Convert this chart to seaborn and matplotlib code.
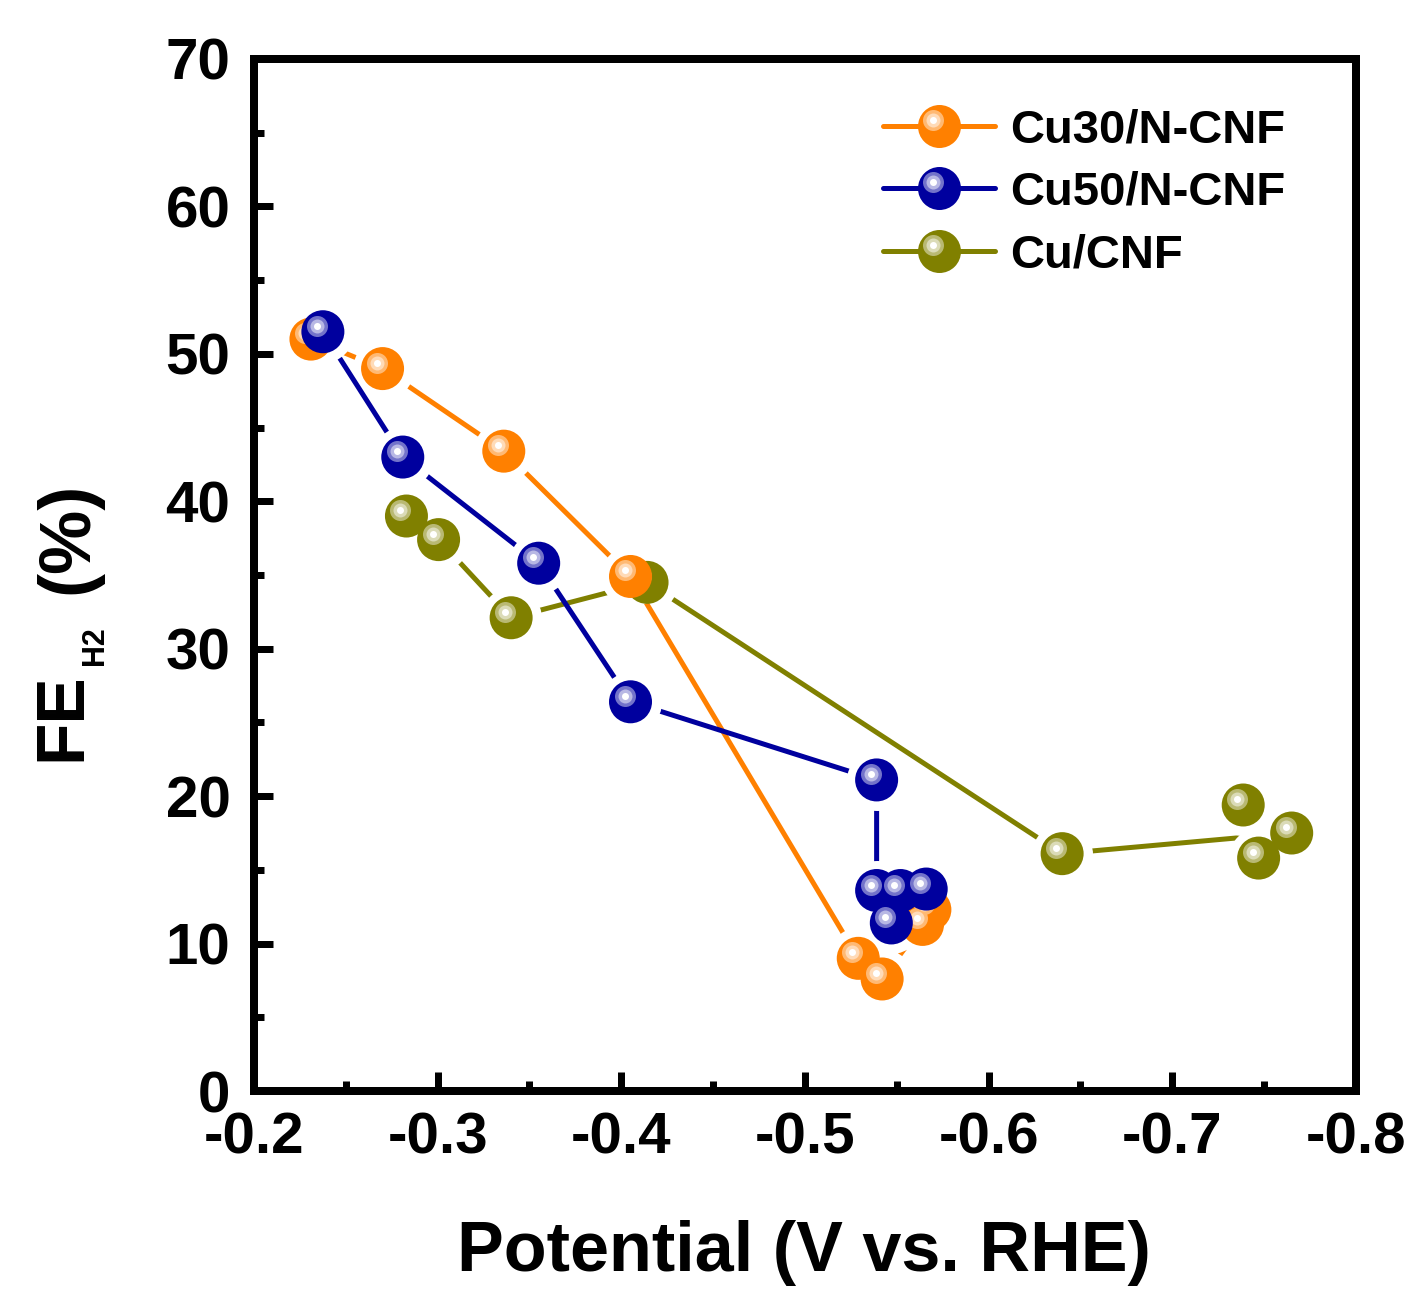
import numpy as np
import pandas as pd
import matplotlib
matplotlib.use("Agg")
import matplotlib.pyplot as plt
import seaborn as sns
from matplotlib.lines import Line2D
from matplotlib.legend_handler import HandlerBase
from matplotlib.transforms import offset_copy
from matplotlib.colors import to_rgb

# ---- data ----
series_names = ["Cu30/N-CNF", "Cu50/N-CNF", "Cu/CNF"]
cu30_x = [-0.231, -0.270, -0.336, -0.405, -0.529, -0.542, -0.564, -0.568]
cu30_y = [51.0, 49.0, 43.4, 34.9, 9.0, 7.6, 11.3, 12.3]
cu50_x = [-0.2375, -0.281, -0.355, -0.405, -0.539, -0.539, -0.552, -0.566, -0.547]
cu50_y = [51.5, 43.0, 35.8, 26.4, 21.1, 13.6, 13.6, 13.7, 11.4]
cucnf_x = [-0.283, -0.3005, -0.340, -0.414, -0.640, -0.765, -0.747, -0.7386]
cucnf_y = [39.0, 37.4, 32.1, 34.5, 16.1, 17.5, 15.8, 19.4]
x_ticks = [-0.2, -0.3, -0.4, -0.5, -0.6, -0.7, -0.8]
x_tick_labels = ["-0.2", "-0.3", "-0.4", "-0.5", "-0.6", "-0.7", "-0.8"]
y_ticks = [0, 10, 20, 30, 40, 50, 60, 70]
colors = {"Cu30/N-CNF": "#FF8000", "Cu50/N-CNF": "#00009E", "Cu/CNF": "#808000"}

sns.set_theme(style="white")
plt.rcParams["font.family"] = ["Liberation Sans", "DejaVu Sans"]
plt.rcParams["font.weight"] = "bold"
plt.rcParams["axes.unicode_minus"] = False

DPI = 100
fig = plt.figure(figsize=(14.23, 12.99), dpi=DPI)
ax = fig.add_axes([0.1785, 0.1601, 0.7744, 0.7945])

data = {
    "Cu30/N-CNF": (cu30_x, cu30_y),
    "Cu50/N-CNF": (cu50_x, cu50_y),
    "Cu/CNF": (cucnf_x, cucnf_y),
}

PX = 72.0 / DPI  # points per pixel
MS = 43 * PX       # marker diameter (pt)
HALO = 61 * PX
LW = 5 * PX
OFF = 6            # highlight offset px
H1, H2, H3 = 21, 14, 7

def blend(c, f):
    r = np.array(to_rgb(c))
    return tuple(r + (1 - r) * f)

hl_trans = offset_copy(ax.transData, fig=fig, x=-OFF, y=OFF, units="dots")

draw_order = ["Cu/CNF", "Cu30/N-CNF", "Cu50/N-CNF"]
for i, name in enumerate(draw_order):
    xs, ys = data[name]
    df = pd.DataFrame({"x": xs, "y": ys})
    sns.lineplot(data=df, x="x", y="y", sort=False, estimator=None, color=colors[name],
                 linewidth=LW, ax=ax, zorder=2 + i * 0.2)
    ax.plot(xs, ys, ls="none", marker="o", ms=HALO, mfc="white", mec="none",
            zorder=2.1 + i * 0.2)

for i, name in enumerate(draw_order):
    xs, ys = data[name]
    df = pd.DataFrame({"x": xs, "y": ys})
    z = 5 + i
    sns.scatterplot(data=df, x="x", y="y", s=MS ** 2, color=colors[name], edgecolor="none",
                    linewidth=0, ax=ax, zorder=z)
    ax.plot(xs, ys, ls="none", marker="o", ms=H1 * PX, mfc=blend(colors[name], 0.45), mec="none",
            transform=hl_trans, zorder=z + 0.1)
    ax.plot(xs, ys, ls="none", marker="o", ms=H2 * PX, mfc=blend(colors[name], 0.72), mec="none",
            transform=hl_trans, zorder=z + 0.2)
    ax.plot(xs, ys, ls="none", marker="o", ms=H3 * PX, mfc="white", mec="none",
            transform=hl_trans, zorder=z + 0.3)

ax.set_xlim(-0.2, -0.8)
ax.set_ylim(0, 70)
ax.set_xticks(x_ticks)
ax.set_xticklabels(x_tick_labels)
ax.set_yticks(y_ticks)
ax.set_xticks([-0.25, -0.35, -0.45, -0.55, -0.65, -0.75], minor=True)
ax.set_yticks([5, 15, 25, 35, 45, 55, 65], minor=True)
ax.set_xlabel("")
ax.set_ylabel("")

for sp in ax.spines.values():
    sp.set_visible(True)
    sp.set_linewidth(8 * PX)
    sp.set_color("black")

ax.tick_params(axis="both", which="major", direction="in", length=19 * PX, width=7 * PX,
               color="black", labelsize=42, top=False, right=False,
               bottom=True, left=True)
ax.tick_params(axis="x", which="major", pad=15)
ax.tick_params(axis="y", which="major", pad=17)
ax.tick_params(axis="both", which="minor", direction="in", length=10 * PX, width=7 * PX,
               color="black", top=False, right=False, bottom=True, left=True)
for lab in ax.get_xticklabels() + ax.get_yticklabels():
    lab.set_fontweight("bold")
    lab.set_color("black")

# axis labels
fig.text(804 / 1423, 1 - 1253 / 1299, "Potential (V vs. RHE)", ha="center", va="center",
         fontsize=50.5, fontweight="bold", color="black")
fig.text(62 / 1423, 1 - 717 / 1299, "FE", rotation=90, ha="center", va="center",
         fontsize=50, fontweight="bold", color="black")
fig.text(95 / 1423, 1 - 646 / 1299, "H2", rotation=90, ha="center", va="center",
         fontsize=22, fontweight="bold", color="black")
fig.text(68 / 1423, 1 - 538 / 1299, "(%)", rotation=90, ha="center", va="center",
         fontsize=52, fontweight="bold", color="black")

# legend
class BallHandler(HandlerBase):
    def create_artists(self, legend, orig_handle, xdescent, ydescent, width, height,
                       fontsize, trans):
        c = orig_handle.get_color()
        cy = height / 2 - ydescent
        cx = width / 2 - xdescent
        line = Line2D([-xdescent, width - xdescent], [cy, cy], color=c, lw=LW, transform=trans)
        ball = Line2D([cx], [cy], ls="none", marker="o", ms=MS, mfc=c, mec="none", transform=trans)
        o = OFF * PX
        h1 = Line2D([cx - o], [cy + o], ls="none", marker="o", ms=H1 * PX, mfc=blend(c, 0.45),
                    mec="none", transform=trans)
        h2 = Line2D([cx - o], [cy + o], ls="none", marker="o", ms=H2 * PX, mfc=blend(c, 0.72),
                    mec="none", transform=trans)
        h3 = Line2D([cx - o], [cy + o], ls="none", marker="o", ms=H3 * PX, mfc="white",
                    mec="none", transform=trans)
        return [line, ball, h1, h2, h3]

handles = [Line2D([], [], color=colors[n]) for n in series_names]
leg = ax.legend(handles, series_names, handler_map={Line2D: BallHandler()},
                loc="upper left", bbox_to_anchor=(0.571, 0.952), frameon=False,
                handlelength=2.37, handletextpad=0.32, labelspacing=0.39,
                borderpad=0, borderaxespad=0,
                prop={"weight": "bold", "size": 34})
for t in leg.get_texts():
    t.set_color("black")

fig.savefig("out.png", dpi=DPI)
